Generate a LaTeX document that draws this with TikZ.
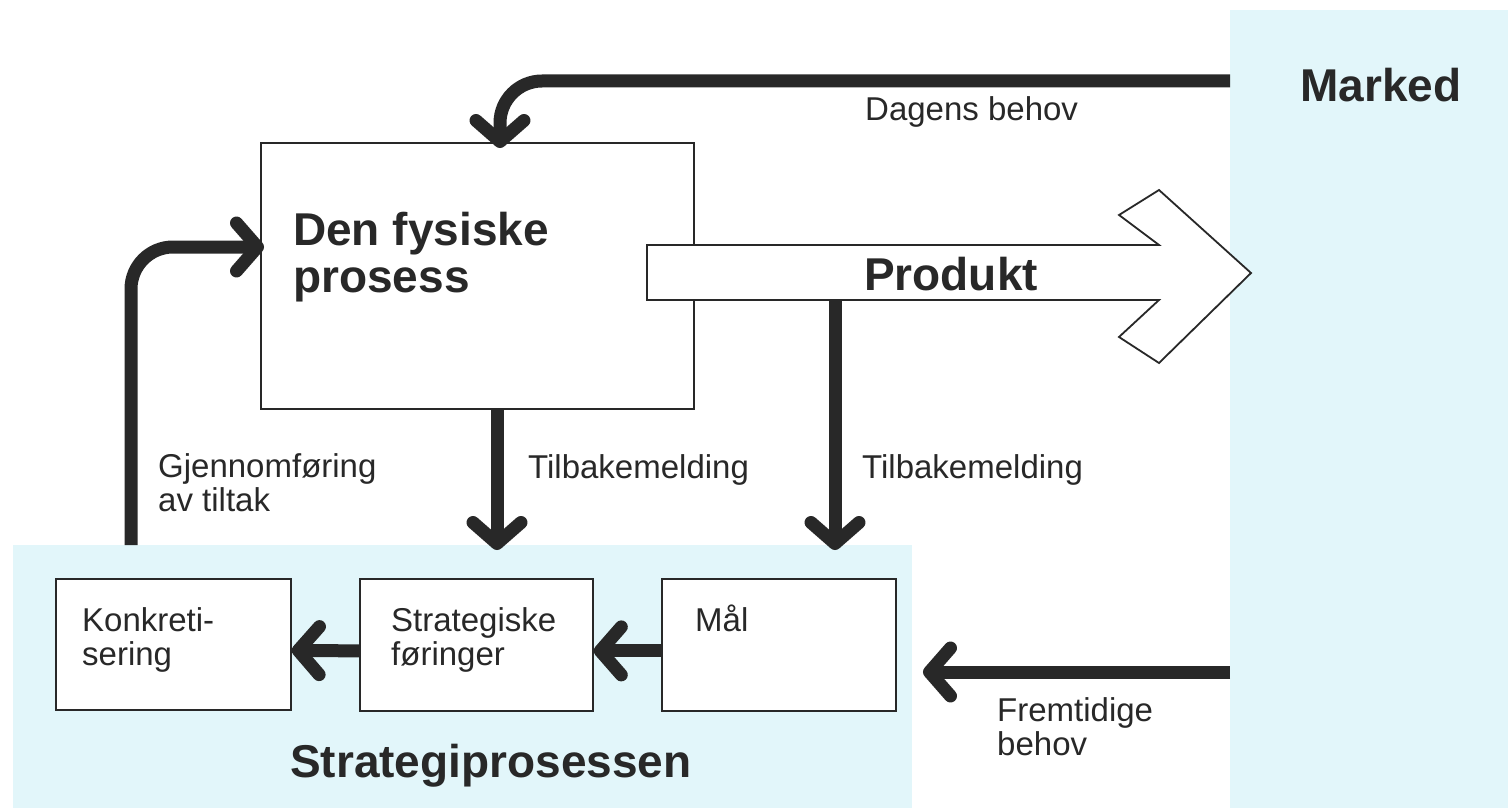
\documentclass[tikz,border=0pt]{standalone}
\usepackage{fontspec}
\setmainfont{Liberation Sans}
\usetikzlibrary{arrows.meta}
\definecolor{panel}{RGB}{226,246,250}
\definecolor{ink}{RGB}{40,40,40}
\begin{document}
\begin{tikzpicture}[x=1pt,y=-1pt,
  region/.style={fill=panel,draw=none,inner sep=0pt,anchor=north west},
  box/.style={draw=ink,line width=1.8pt,fill=white,inner sep=0pt,anchor=north west},
  flow/.style={draw=ink,line width=13pt,line cap=butt,
    -{Straight Barb[length=21pt,width=48pt,round]}},
  big/.style={font=\fontsize{46}{47}\selectfont\bfseries,text=ink,inner sep=0pt,align=left},
  lbl/.style={font=\fontsize{33}{34}\selectfont,text=ink,inner sep=0pt,align=left},
  ]
\useasboundingbox (0,0) rectangle (1508,808);
\fill[white] (0,0) rectangle (1508,808);

% shaded areas
\node[region,minimum width=278pt,minimum height=798pt] (market) at (1230,10) {};
\node[region,minimum width=899pt,minimum height=263pt] (stratreg) at (13,545) {};

% boxes
\node[box,minimum width=433pt,minimum height=266pt] (phys) at (260,142) {};
\node[box,minimum width=235pt,minimum height=131pt] (konk) at (55,578) {};
\node[box,minimum width=233pt,minimum height=132pt] (strat) at (359,578) {};
\node[box,minimum width=234pt,minimum height=132pt] (maal) at (661,578) {};

% connector ends
\coordinate (dcorner) at (0,81);
\coordinate (physin) at (500,148);
\coordinate (gfoot) at (131,545);
\coordinate (gin) at (264,247);
\coordinate (t1) at (497,550);
\coordinate (pbot) at (835,290);
\coordinate (t2) at (835,550);
\coordinate (fin) at (923,672);

% feedback from the product flow (drawn first, the arrow covers its top)
\draw[flow] (pbot) -- (t2);

% product arrow
\draw[ink,line width=1.8pt,fill=white,line join=miter]
  (647,245) -- (1159,245) -- (1119,215) -- (1159,190) -- (1251,273)
  -- (1159,363) -- (1119,337) -- (1159,300) -- (647,300) -- cycle;

% connectors
\draw[flow,rounded corners=42pt] (market.west |- dcorner) -| (physin);
\draw[flow,rounded corners=42pt] (gfoot) |- (gin);
\draw[flow] (phys.south -| t1) -- (t1);
\draw[flow] ([yshift=-6pt]strat.west) -- ([yshift=-6pt]konk.east);
\draw[flow] ([yshift=-6pt]maal.west) -- ([yshift=-6pt]strat.east);
\draw[flow] (market.west |- fin) -- (fin);

% labels (base anchor sits on the last line)
\node[big,anchor=base west] (markedlbl) at (1300,101) {Marked};
\node[lbl,anchor=base west] (dagens) at (865,121) {Dagens behov};
\node[big,anchor=base west] (physlbl) at (293,292) {Den fysiske\\prosess};
\node[big,anchor=base west] (produkt) at (864,290) {Produkt};
\node[lbl,anchor=base west] (gjenn) at (158,511) {Gjennomføring\\av tiltak};
\node[lbl,anchor=base west] (tb1) at (528,478) {Tilbakemelding};
\node[lbl,anchor=base west] (tb2) at (862,478) {Tilbakemelding};
\node[lbl,anchor=base west] (konklbl) at (82,665) {Konkreti-\\sering};
\node[lbl,anchor=base west] (stratlbl) at (391,665) {Strategiske\\føringer};
\node[lbl,anchor=base west] (maallbl) at (695,631) {Mål};
\node[lbl,anchor=base west] (fremt) at (997,755) {Fremtidige\\behov};
\node[big,anchor=base west] (stratproc) at (290,777) {Strategiprosessen};
\end{tikzpicture}
\end{document}
